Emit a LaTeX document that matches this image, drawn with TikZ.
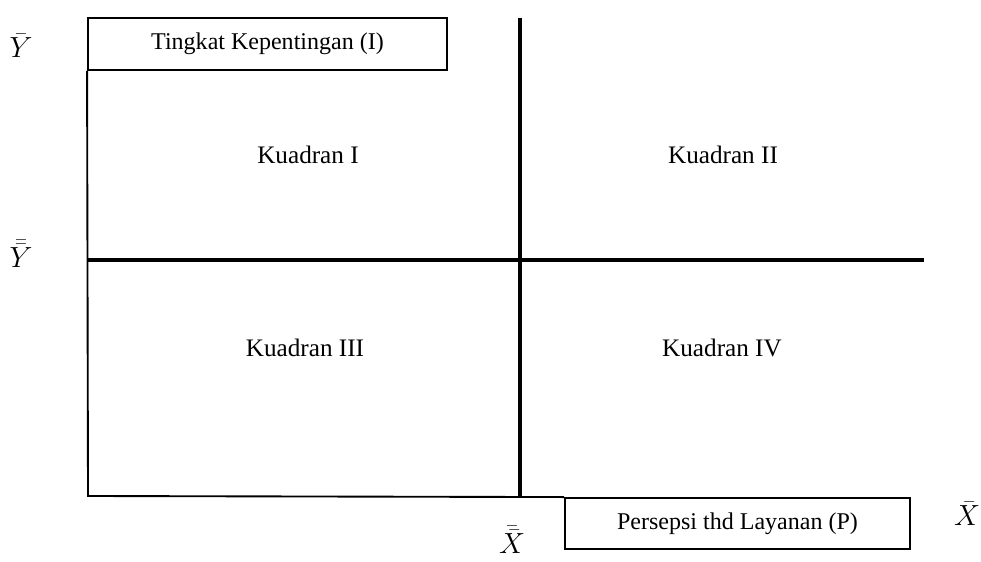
\documentclass[tikz,border=0pt]{standalone}
\usepackage{fontspec}
\setmainfont{Liberation Serif}
\usetikzlibrary{positioning, calc}

\begin{document}
\begin{tikzpicture}[
    x=0.03cm, y=-0.03cm,
    box/.style={rectangle, draw, line width=1.6pt, inner sep=0pt, font=\fontsize{20.5}{24}\selectfont},
    quad/.style={font=\fontsize{21.5}{25}\selectfont},
    sym/.style={font=\fontsize{24}{28}\selectfont},
    axis/.style={line width=1.6pt},
    mid/.style={line width=4pt}
]
\useasboundingbox (0,0) rectangle (981,562);
\node[box, minimum width=359*0.03cm, minimum height=52*0.03cm] (imp) at (267.5,44) {Tingkat Kepentingan (I)};
\node[box, minimum width=345*0.03cm, minimum height=51*0.03cm] (perc) at (737.5,523.5) {Persepsi thd Layanan (P)};
\coordinate (o) at (88,496);
\coordinate (vt) at (520,18);
\coordinate (vb) at (520,496);
\coordinate (hl) at (88,260);
\coordinate (hr) at (924,260);
% axes
\draw[axis] (imp.south west) -- (o) -- (perc.north west);
\draw[mid] (vt) -- (vb);
\draw[mid] (hl) -- (hr);
% quadrants
\node[quad] (q1) at (308,155) {Kuadran I};
\node[quad] (q2) at (723,155) {Kuadran II};
\node[quad] (q3) at (305,348) {Kuadran III};
\node[quad] (q4) at (722,348) {Kuadran IV};
% means
\node[sym] (ybar) at (21,46) {$\bar{Y}$};
\node[sym] (ybb) at (21,254) {$\bar{\bar{Y}}$};
\node[sym] (xbb) at (512,540) {$\bar{\bar{X}}$};
\node[sym] (xbar) at (967,514) {$\bar{X}$};
\end{tikzpicture}
\end{document}
